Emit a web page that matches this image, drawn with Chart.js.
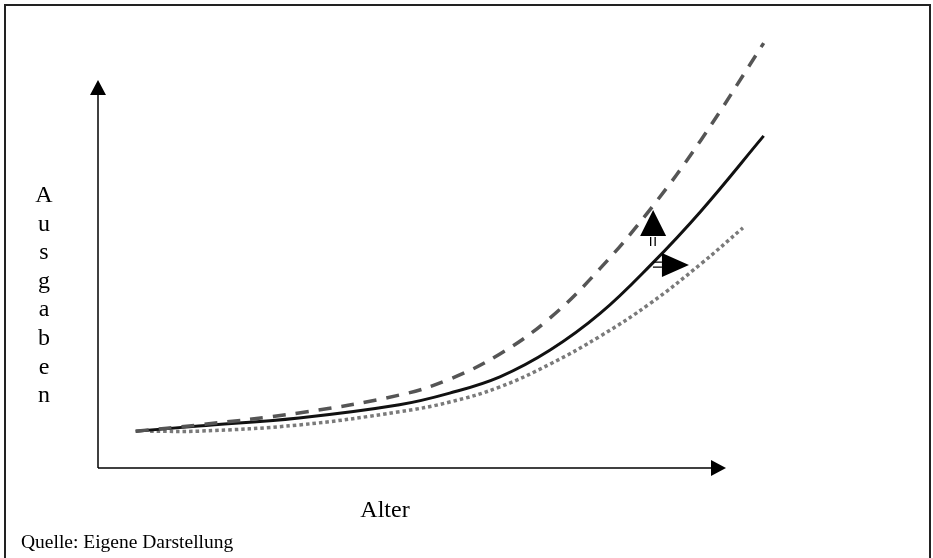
<!DOCTYPE html>
<html>
<head>
<meta charset="utf-8">
<script src="https://cdn.jsdelivr.net/npm/chart.js@4/dist/chart.umd.min.js"></script>
<style>
  html, body { margin: 0; padding: 0; background: #fff; }
  canvas { display: block; }
</style>
</head>
<body>
<canvas id="ausgabenCanvas" width="933" height="558"></canvas>
<script>
// Alter (x) in abstract units, axis runs 0..100
var alter = [6, 16, 32, 48, 56, 64, 72, 80, 88, 96, 106];
var alterNiedrig = [8.3, 16, 32, 48, 56, 64, 72, 80, 88, 96, 102.7];

// Ausgaben (y) in abstract units, axis runs 0..100
var ausgabenHoch = [9.5, 11.1, 14.2, 18.8, 22.9, 29.4, 38.7, 51.5, 66.8, 84.5, 109.5];
var ausgabenMitte = [9.5, 10.8, 12.9, 16.3, 19.3, 23.5, 30.4, 39.9, 52.3, 66.2, 85.6];
var ausgabenNiedrig = [9.5, 9.5, 11.1, 14.5, 17.0, 20.9, 26.8, 34.0, 42.5, 52.6, 61.9];

var xTitel = 'Alter';
var yTitel = 'Ausgaben';
var quelle = 'Quelle: Eigene Darstellung';

// anchor points of the two small shift arrows (data units)
var pfeilHoch = { x: 88.4, y: 66.5 };
var pfeilRechts = { x: 94.1, y: 52.3 };

var serif = '"Liberation Serif", "Times New Roman", serif';

function toPoints(xs, ys) {
    var pts = [];
    for (var i = 0; i < xs.length; ++i) {
        pts.push({ x: xs[i], y: ys[i] });
    }
    return pts;
}

var zeichnung = {
    id: 'zeichnung',
    beforeDraw: function (chart) {
        var ctx = chart.ctx;
        ctx.save();
        ctx.fillStyle = '#fff';
        ctx.fillRect(0, 0, chart.width, chart.height);
        // frame, bottom edge runs off the page
        ctx.strokeStyle = '#222';
        ctx.lineWidth = 2;
        ctx.strokeRect(5, 5, 925, 600);
        ctx.restore();
    },
    afterDraw: function (chart) {
        var ctx = chart.ctx;
        var a = chart.chartArea;
        var xs = chart.scales.x, ys = chart.scales.y;
        ctx.save();
        ctx.strokeStyle = '#000';
        ctx.fillStyle = '#000';
        ctx.lineWidth = 1.5;

        // y axis with arrow
        ctx.beginPath();
        ctx.moveTo(a.left, a.bottom);
        ctx.lineTo(a.left, a.top + 12);
        ctx.stroke();
        ctx.beginPath();
        ctx.moveTo(a.left, a.top);
        ctx.lineTo(a.left - 8, a.top + 15);
        ctx.lineTo(a.left + 8, a.top + 15);
        ctx.closePath();
        ctx.fill();

        // x axis with arrow
        ctx.beginPath();
        ctx.moveTo(a.left, a.bottom);
        ctx.lineTo(a.right - 12, a.bottom);
        ctx.stroke();
        ctx.beginPath();
        ctx.moveTo(a.right, a.bottom);
        ctx.lineTo(a.right - 15, a.bottom - 8);
        ctx.lineTo(a.right - 15, a.bottom + 8);
        ctx.closePath();
        ctx.fill();

        // upward shift arrow
        var ux = xs.getPixelForValue(pfeilHoch.x);
        var uy = ys.getPixelForValue(pfeilHoch.y);
        ctx.beginPath();
        ctx.moveTo(ux, uy);
        ctx.lineTo(ux - 13, uy + 26);
        ctx.lineTo(ux + 13, uy + 26);
        ctx.closePath();
        ctx.fill();
        ctx.lineWidth = 1.3;
        ctx.beginPath();
        ctx.moveTo(ux - 2.5, uy + 27); ctx.lineTo(ux - 2.5, uy + 36);
        ctx.moveTo(ux + 2, uy + 27); ctx.lineTo(ux + 2, uy + 36);
        ctx.stroke();

        // rightward shift arrow
        var rx = xs.getPixelForValue(pfeilRechts.x);
        var ry = ys.getPixelForValue(pfeilRechts.y);
        ctx.beginPath();
        ctx.moveTo(rx, ry);
        ctx.lineTo(rx - 27, ry - 12);
        ctx.lineTo(rx - 27, ry + 12);
        ctx.closePath();
        ctx.fill();
        ctx.beginPath();
        ctx.moveTo(rx - 36, ry - 3); ctx.lineTo(rx - 27, ry - 3);
        ctx.moveTo(rx - 36, ry + 2); ctx.lineTo(rx - 27, ry + 2);
        ctx.stroke();

        // texts
        ctx.fillStyle = '#000';
        ctx.textAlign = 'center';
        ctx.textBaseline = 'alphabetic';
        ctx.font = '24px ' + serif;
        ctx.fillText(xTitel, 385, 517);
        for (var i = 0; i < yTitel.length; ++i) {
            ctx.fillText(yTitel[i], 44, 202 + i * 28.6);
        }
        ctx.textAlign = 'left';
        ctx.font = '19.5px ' + serif;
        ctx.fillText(quelle, 21, 548);
        ctx.restore();
    }
};

var ctx = document.getElementById('ausgabenCanvas').getContext('2d');
var chart = new Chart(ctx, {
    type: 'scatter',
    data: {
        datasets: [{
            label: 'hoch',
            data: toPoints(alter, ausgabenHoch),
            showLine: true,
            borderColor: '#555',
            borderWidth: 3.5,
            borderDash: [13, 10],
            pointRadius: 0,
            tension: 0.4,
            clip: false
        }, {
            label: 'mitte',
            data: toPoints(alter, ausgabenMitte),
            showLine: true,
            borderColor: '#111',
            borderWidth: 3,
            pointRadius: 0,
            tension: 0.4,
            clip: false
        }, {
            label: 'niedrig',
            data: toPoints(alterNiedrig, ausgabenNiedrig),
            showLine: true,
            borderColor: '#7a7a7a',
            borderWidth: 3.5,
            borderDash: [3.5, 3],
            pointRadius: 0,
            tension: 0.4,
            clip: false
        }]
    },
    options: {
        responsive: false,
        animation: false,
        layout: { padding: { left: 98, right: 207, top: 80, bottom: 90 } },
        scales: {
            x: { type: 'linear', min: 0, max: 100, display: false },
            y: { type: 'linear', min: 0, max: 100, display: false }
        },
        plugins: {
            legend: { display: false },
            tooltip: { enabled: false }
        }
    },
    plugins: [zeichnung]
});
</script>
</body>
</html>
